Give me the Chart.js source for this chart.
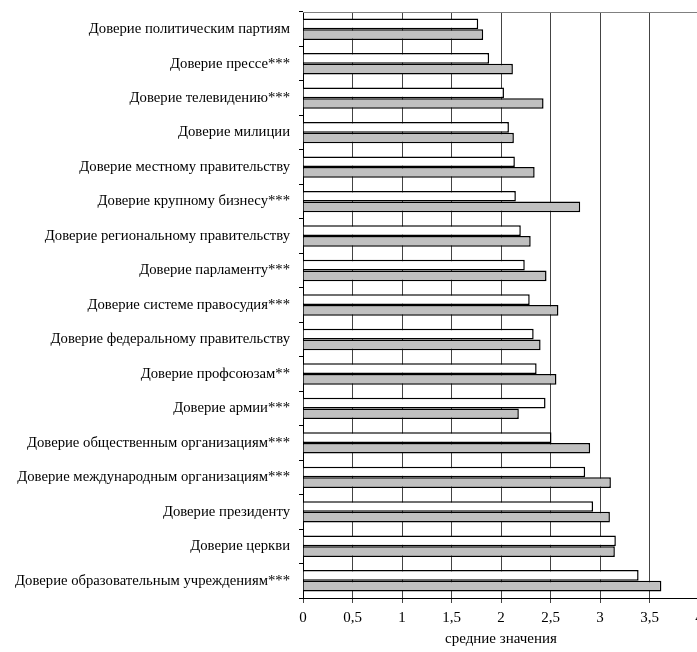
<!DOCTYPE html>
<html>
<head>
<meta charset="utf-8">
<script src="https://cdn.jsdelivr.net/npm/chart.js@4"></script>
<style>
    html, body { margin: 0; padding: 0; background: #fff; overflow: hidden; }
    #wrap { width: 720px; height: 652px; }
</style>
</head>
<body>
<div id="wrap"><canvas id="chart" width="720" height="652"></canvas></div>
<script>
// Categories (top to bottom)
const categories = [
    'Доверие политическим партиям',
    'Доверие прессе***',
    'Доверие телевидению***',
    'Доверие милиции',
    'Доверие местному правительству',
    'Доверие крупному бизнесу***',
    'Доверие региональному правительству',
    'Доверие парламенту***',
    'Доверие системе правосудия***',
    'Доверие федеральному правительству',
    'Доверие профсоюзам**',
    'Доверие армии***',
    'Доверие общественным организациям***',
    'Доверие международным организациям***',
    'Доверие президенту',
    'Доверие церкви',
    'Доверие образовательным учреждениям***'
];

// White bars (first series)
const seriesWhite = [1.77, 1.88, 2.03, 2.08, 2.14, 2.15, 2.20, 2.24, 2.29, 2.33, 2.36, 2.45, 2.51, 2.85, 2.93, 3.16, 3.39];
// Gray bars (second series)
const seriesGray = [1.82, 2.12, 2.43, 2.13, 2.34, 2.80, 2.30, 2.46, 2.58, 2.40, 2.56, 2.18, 2.90, 3.11, 3.10, 3.15, 3.62];

const xTicks = [0, 0.5, 1, 1.5, 2, 2.5, 3, 3.5, 4];
const axisTitle = 'средние значения';

const serif = 'Liberation Serif';

// top frame line
const topLine = {
    id: 'topLine',
    afterDraw(chart) {
        const { ctx, chartArea } = chart;
        ctx.save();
        ctx.strokeStyle = '#808080';
        ctx.lineWidth = 1;
        ctx.beginPath();
        ctx.moveTo(chartArea.left, chartArea.top + 0.5);
        ctx.lineTo(chartArea.right, chartArea.top + 0.5);
        ctx.stroke();
        ctx.restore();
    }
};

new Chart(document.getElementById('chart'), {
    type: 'bar',
    data: {
        labels: categories,
        datasets: [
            {
                data: seriesWhite,
                backgroundColor: '#ffffff',
                borderColor: '#000000',
                borderWidth: 1.5,
                categoryPercentage: 0.62,
                barPercentage: 1.0
            },
            {
                data: seriesGray,
                backgroundColor: '#c0c0c0',
                borderColor: '#000000',
                borderWidth: 1.5,
                categoryPercentage: 0.62,
                barPercentage: 1.0
            }
        ]
    },
    options: {
        indexAxis: 'y',
        responsive: false,
        animation: false,
        events: [],
        layout: { padding: { top: 12, right: 21, left: 0, bottom: 0 } },
        plugins: {
            legend: { display: false },
            tooltip: { enabled: false }
        },
        scales: {
            x: {
                min: 0,
                max: 4,
                afterBuildTicks(scale) {
                    scale.ticks = xTicks.map(v => ({ value: v }));
                },
                afterFit(scale) { scale.height = 54; },
                grid: {
                    color: '#444444',
                    lineWidth: 1,
                    tickLength: 5,
                    drawTicks: true
                },
                border: { color: '#000000', width: 1 },
                ticks: {
                    color: '#000',
                    padding: 6,
                    maxRotation: 0,
                    autoSkip: false,
                    font: { family: serif, size: 15 },
                    callback: v => String(v).replace('.', ',')
                },
                title: {
                    display: true,
                    text: axisTitle,
                    color: '#000',
                    font: { family: serif, size: 15 },
                    padding: { top: 2, bottom: 4 }
                }
            },
            y: {
                afterFit(scale) {
                    scale.width = 303;
                    scale.paddingTop = 0;
                    scale.paddingBottom = 0;
                },
                grid: {
                    display: true,
                    drawOnChartArea: false,
                    offset: true,
                    tickLength: 4,
                    color: '#000'
                },
                border: { color: '#000000', width: 1 },
                ticks: {
                    color: '#000',
                    padding: 9,
                    autoSkip: false,
                    font: { family: serif, size: 14.7 }
                }
            }
        }
    },
    plugins: [topLine]
});
</script>
</body>
</html>
